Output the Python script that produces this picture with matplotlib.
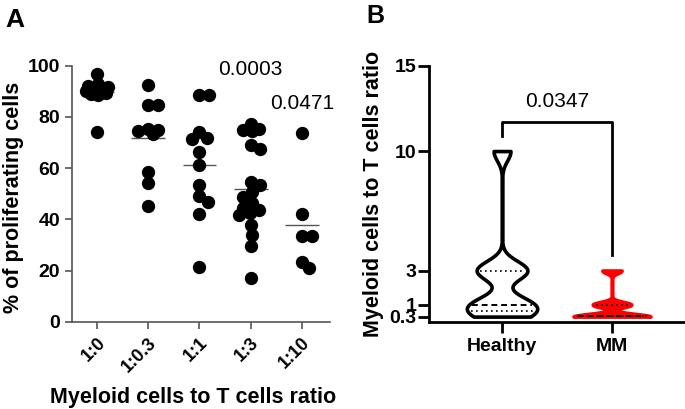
import numpy as np
import matplotlib
matplotlib.use("Agg")
import matplotlib.pyplot as plt

plt.rcParams['font.family'] = ['Liberation Sans', 'DejaVu Sans']

# ---- panel A data: % of proliferating cells per myeloid:T ratio ----
ratios = ["1:0", "1:0.3", "1:1", "1:3", "1:10"]
prolif = {
    "1:0": [96.9, 93, 92, 91.5, 91, 90.5, 90, 89.5, 89, 88.5, 74.2],
    "1:0.3": [92.3, 84.5, 84.5, 75.1, 74.8, 74.4, 73.5, 58.5, 54.2, 45.1],
    "1:1": [88.4, 88.4, 74.1, 71.6, 71.2, 66.3, 61.4, 53.6, 49.0, 46.8, 42.0, 21.2],
    "1:3": [77.4, 75.3, 74.7, 74.5, 69, 67.5, 54.6, 53.3, 50.7, 48.6, 46.5,
            44.4, 43.6, 42.4, 41.5, 37.7, 33.8, 29.5, 17.0],
    "1:10": [73.8, 42.2, 33.5, 33.5, 23.4, 20.8],
}
pvals_a = {"1:3": ("0.0003", 98.5), "1:10": ("0.0471", 85.3)}

# ---- panel B data: myeloid to T cell ratio per group ----
groups = ["Healthy", "MM"]
ratio_vals = {
    "Healthy": [0.3, 0.3, 1, 1, 1, 3, 3, 3, 10],
    "MM": [0.3, 0.3, 0.3, 0.3, 1, 1, 3],
}
pval_b = "0.0347"
bw = {"Healthy": 0.56, "MM": 0.16}
half_w = {"Healthy": 0.32, "MM": 0.35}
fill = {"Healthy": "white", "MM": "#ff0000"}
edge = {"Healthy": "black", "MM": "#ff0000"}


def swarm_offsets(vals, px_per_y, dmin, max_off):
    # beeswarm in pixel space; limited width, overlap allowed when crowded
    order = np.argsort(vals)[::-1]
    placed = []
    offs = np.zeros(len(vals))
    steps = [0.0]
    k = 1
    while k * 0.5 <= max_off:
        steps += [k * 0.5, -k * 0.5]
        k += 1
    for idx in order:
        y = vals[idx] * px_per_y
        best, best_d = 0.0, -1
        for dx in steps:
            dm = min([np.hypot(dx - px, y - py) for px, py in placed] or [1e9])
            if dm >= dmin:
                best = dx
                break
            if dm > best_d + 1e-9:
                best, best_d = dx, dm
        placed.append((best, y))
        offs[idx] = best
    return offs


fig = plt.figure(figsize=(6.85, 4.09), dpi=100)

# ================= panel A =================
axA = fig.add_axes([0.1051, 0.2134, 0.3766, 0.6259])
px_y = 256.0 / 100
px_x = 51.25
for i, r in enumerate(ratios):
    v = np.array(prolif[r], dtype=float)
    off = swarm_offsets(v, px_y, 10.0, 11.5) / px_x
    axA.scatter(i + off, v, s=92, color="black", linewidths=0, zorder=3, clip_on=False)
    axA.hlines(v.mean(), i - 0.33, i + 0.33, color="#555555", lw=1, zorder=2)
for r, (txt, yy) in pvals_a.items():
    axA.text(ratios.index(r), yy, txt, ha="center", va="center", fontsize=15, clip_on=False)

axA.set_xlim(-0.49, 4.55)
axA.set_ylim(0, 100)
axA.set_yticks(range(0, 101, 20))
axA.set_xticks(range(len(ratios)))
axA.set_xticklabels(ratios, rotation=45, ha="right", va="top", rotation_mode="anchor")
for s in ["top", "right"]:
    axA.spines[s].set_visible(False)
for s in ["left", "bottom"]:
    axA.spines[s].set_color("#555555")
    axA.spines[s].set_linewidth(1.2)
axA.tick_params(axis="both", colors="#555555", labelcolor="black", length=5, width=1.2,
                labelsize=14)
axA.tick_params(axis="x", labelsize=13, pad=4)
for lab in axA.get_xticklabels() + axA.get_yticklabels():
    lab.set_fontweight("bold")
fig.text(14 / 685, 1 - 197 / 409, "% of proliferating cells", rotation=90,
         ha="center", va="center", fontsize=15.5, fontweight="bold")
fig.text(193 / 685, 1 - 397 / 409, "Myeloid cells to T cells ratio",
         ha="center", va="center", fontsize=15.5, fontweight="bold")
fig.text(5 / 685, 1 - 8 / 409, "A", ha="left", va="top", fontsize=19, fontweight="bold")

# ================= panel B =================
axB = fig.add_axes([0.6263, 0.2134, 0.3737, 0.6259])
for i, g in enumerate(groups):
    d = np.array(ratio_vals[g], dtype=float)
    yy = np.linspace(d.min(), d.max(), 400)
    dens = np.exp(-0.5 * ((yy[:, None] - d[None, :]) / bw[g]) ** 2).sum(axis=1)
    w = dens / dens.max() * half_w[g]
    axB.fill_betweenx(yy, i - w, i + w, facecolor=fill[g], edgecolor=edge[g],
                      lw=2.6, joinstyle="round", zorder=2)
    q1, med, q3 = np.percentile(d, [25, 50, 75], method="weibull")
    for q, ls, lw in [(q1, (0, (1, 2)), 1.2), (med, (0, (3, 2)), 1.4), (q3, (0, (1, 2)), 1.2)]:
        wq = np.interp(q, yy, w) - 0.03
        qy = max(q, d.min() + 0.06)
        axB.hlines(qy, i - wq, i + wq, color="black", lw=lw, linestyles=[ls], zorder=3)

axB.plot([0, 0, 1, 1], [10.9, 11.7, 11.7, 3.9], color="black", lw=2, zorder=3)
axB.text(0.5, 12.9, pval_b, ha="center", va="center", fontsize=15)

axB.set_xlim(-0.664, 1.664)
axB.set_ylim(0, 15)
axB.set_yticks([0.3, 1, 3, 10, 15])
axB.set_yticklabels(["0.3", "1", "3", "10", "15"])
axB.set_xticks([0, 1])
axB.set_xticklabels(groups)
for s in ["top", "right"]:
    axB.spines[s].set_visible(False)
for s in ["left", "bottom"]:
    axB.spines[s].set_linewidth(2)
axB.tick_params(axis="both", length=8, width=2, labelsize=14, pad=1)
axB.tick_params(axis="x", pad=4)
for lab in axB.get_xticklabels() + axB.get_yticklabels():
    lab.set_fontweight("bold")
fig.text(374 / 685, 1 - 193.5 / 409, "Myeloid cells to T cells ratio", rotation=90,
         ha="center", va="center", fontsize=15.5, fontweight="bold")
fig.text(366 / 685, 1 - 4 / 409, "B", ha="left", va="top", fontsize=18, fontweight="bold")

fig.savefig("out.png", dpi=100)
